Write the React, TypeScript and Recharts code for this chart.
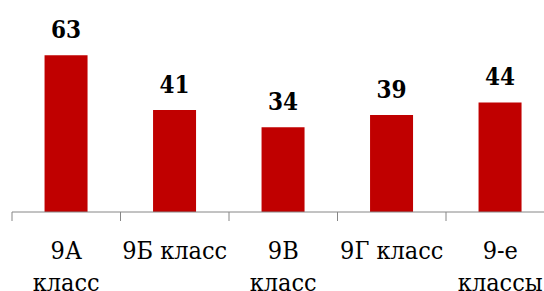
import React from "react";
import { BarChart, Bar, XAxis, YAxis, LabelList } from "recharts";

const categories = ["9А класс", "9Б класс", "9В класс", "9Г класс", "9-е классы"];
const values = [63, 41, 34, 39, 44];
const tickLines = [["9А", "класс"], ["9Б класс"], ["9В", "класс"], ["9Г класс"], ["9-е", "классы"]];

const data = categories.map((c, i) => ({ name: c, value: values[i] }));

const FONT = "'DejaVu Serif Condensed', 'DejaVu Serif', serif";
const CHART_W = 567;
const M_LEFT = 12;
const M_RIGHT = 12.5;
const BAND = (CHART_W - M_LEFT - M_RIGHT) / categories.length;

const Tick = (props: any) => {
  const { x, y, index } = props;
  const lines = tickLines[index] || [String(props.payload?.value)];
  const left = x - BAND / 2;
  const right = x + BAND / 2;
  return (
    <g>
      <line x1={left} x2={left} y1={y} y2={y + 9} stroke="#868686" strokeWidth={1} />
      {index === categories.length - 1 && (
        <line x1={right} x2={right} y1={y} y2={y + 9} stroke="#868686" strokeWidth={1} />
      )}
      <text x={x} y={y} textAnchor="middle" style={{ fontFamily: FONT }} fontSize={25} fill="#000">
        {lines.map((l: string, i: number) => (
          <tspan key={i} x={x} dy={i === 0 ? 47 : 32}>
            {l}
          </tspan>
        ))}
      </text>
    </g>
  );
};

export default function App() {
  return (
    <div style={{ position: "absolute", left: 0, top: 0, width: 544, height: 291, overflow: "hidden", background: "#fff" }}>
      <BarChart
        width={CHART_W}
        height={291}
        data={data}
        margin={{ top: 37.7, right: M_RIGHT, bottom: 0, left: M_LEFT }}
        barCategoryGap="30%"
      >
        <XAxis
          dataKey="name"
          height={79}
          tickSize={0}
          tickMargin={0}
          interval={0}
          tickLine={false}
          axisLine={{ stroke: "#868686" }}
          tick={<Tick />}
        />
        <YAxis hide domain={[0, 70]} />
        <Bar dataKey="value" fill="#C00000" isAnimationActive={false}>
          <LabelList
            dataKey="value"
            position="top"
            offset={17}
            style={{ fontFamily: FONT, fontSize: 24, fontWeight: "bold", fill: "#000" }}
          />
        </Bar>
      </BarChart>
    </div>
  );
}
